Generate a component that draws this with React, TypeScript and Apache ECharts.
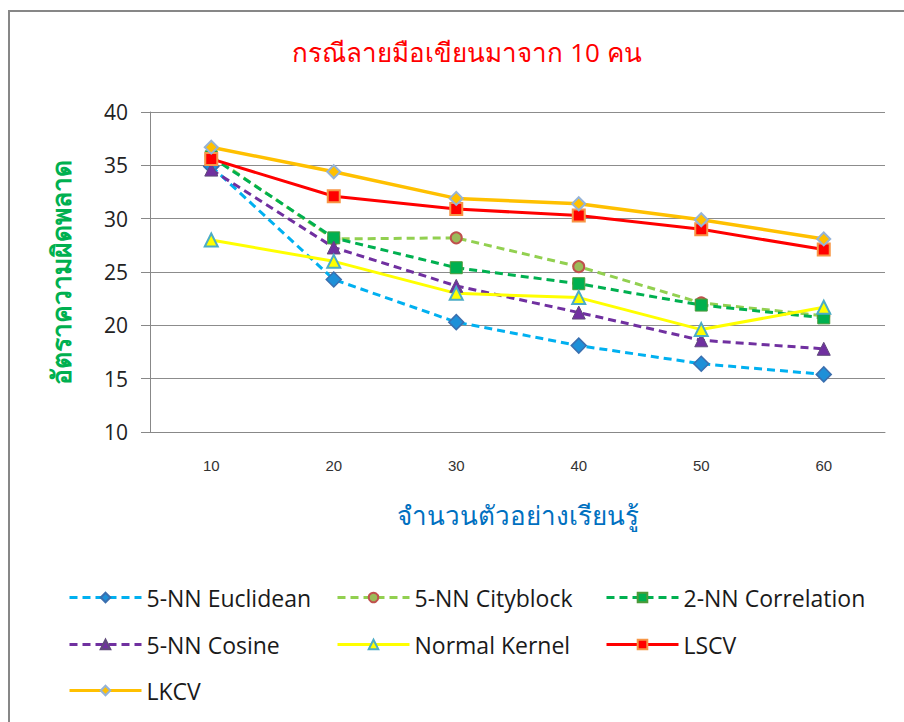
import React, { useEffect, useRef } from "react";
import * as echarts from "echarts";

const categories = ["10", "20", "30", "40", "50", "60"];
const yTicks = [10, 15, 20, 25, 30, 35, 40];

const euclidean = [34.9, 24.3, 20.3, 18.1, 16.4, 15.4];
const cityblock = [35.9, 28.1, 28.2, 25.5, 22.1, 20.9];
const correlation = [35.8, 28.2, 25.4, 23.9, 21.9, 20.7];
const cosine = [34.6, 27.3, 23.7, 21.2, 18.6, 17.8];
const normalKernel = [28.0, 26.0, 23.0, 22.6, 19.6, 21.7];
const lscv = [35.6, 32.1, 30.9, 30.3, 29.0, 27.1];
const lkcv = [36.7, 34.4, 31.9, 31.4, 29.9, 28.1];

const titleText = "กรณีลายมือเขียนมาจาก 10 คน";
const xName = "จำนวนตัวอย่างเรียนรู้";
const yName = "อัตราความผิดพลาด";

const seriesNames = [
  "5-NN Euclidean",
  "5-NN Cityblock",
  "2-NN Correlation",
  "5-NN Cosine",
  "Normal Kernel",
  "LSCV",
  "LKCV",
];

const FONT = "'Open Sans', 'Noto Sans', 'DejaVu Sans', sans-serif";
const DASH = [8, 5];

export default function App() {
  const ref = useRef<HTMLDivElement>(null);
  useEffect(() => {
    if (!ref.current) return;
    const chart = echarts.init(ref.current, undefined, { renderer: "svg" });
    const mk = (
      name: string,
      data: number[],
      lineColor: string,
      dashed: boolean,
      symbol: string,
      symbolSize: number,
      fill: string,
      border: string,
      borderWidth: number,
      width = 3
    ) => ({
      type: "line",
      name,
      data,
      symbol,
      symbolSize,
      lineStyle: { color: lineColor, width, type: dashed ? DASH : "solid" },
      itemStyle: { color: fill, borderColor: border, borderWidth },
      emphasis: { disabled: true },
    });
    const legendPos = [
      [63, 581],
      [331, 581],
      [600, 581],
      [63, 628],
      [331, 628],
      [600, 628],
      [63, 674],
    ];
    const legends = seriesNames.map((n, i) => ({
      data: [n],
      left: legendPos[i][0],
      top: legendPos[i][1],
      itemWidth: 72,
      itemHeight: 12,
      itemGap: 0,
      lineStyle: { width: 3 },
      textStyle: { fontFamily: FONT, fontSize: 23, color: "#1a1a1a" },
      selectedMode: false,
    }));
    chart.setOption({
      animation: false,
      backgroundColor: "#fff",
      title: {
        text: titleText,
        left: 462,
        textAlign: "center",
        top: 34,
        textStyle: { color: "#FF0000", fontSize: 26, fontWeight: "normal", fontFamily: FONT },
      },
      graphic: [
        {
          type: "rect",
          shape: { x: 9, y: 11, width: 1000, height: 1000 },
          style: { fill: "none", stroke: "#878787", lineWidth: 2 },
          silent: true,
        },
      ],
      legend: legends,
      grid: { left: 150, right: 19, top: 112, bottom: 290 },
      xAxis: {
        type: "category",
        data: categories,
        boundaryGap: true,
        name: xName,
        nameLocation: "middle",
        nameGap: 70,
        nameTextStyle: { color: "#0070C0", fontSize: 26, fontFamily: FONT },
        axisLine: { show: true, lineStyle: { color: "#888", width: 1 } },
        axisTick: { show: false },
        axisLabel: { color: "#333", fontSize: 15, margin: 26, fontFamily: "'Liberation Sans', Arial, sans-serif" },
      },
      yAxis: {
        type: "value",
        min: yTicks[0],
        max: yTicks[yTicks.length - 1],
        interval: 5,
        name: yName,
        nameLocation: "middle",
        nameGap: 76,
        nameRotate: 90,
        nameTextStyle: { color: "#00B050", fontSize: 26.5, fontWeight: "bold", fontFamily: FONT },
        axisLine: { show: true, lineStyle: { color: "#888", width: 1 } },
        axisTick: { show: true, inside: false, length: 9, lineStyle: { color: "#888" } },
        axisLabel: { color: "#222", fontSize: 21, margin: 22, fontFamily: FONT },
        splitLine: { show: true, lineStyle: { color: "#8c8c8c", width: 1 } },
      },
      series: [
        mk(seriesNames[0], euclidean, "#00B0F0", true, "diamond", 15, "#1E90D8", "#3B6FAF", 1.5),
        mk(seriesNames[1], cityblock, "#92D050", true, "circle", 11, "#9BBB59", "#C0504D", 2),
        mk(seriesNames[2], correlation, "#00B050", true, "rect", 12, "#00B050", "#4E9A3A", 1),
        mk(seriesNames[3], cosine, "#7030A0", true, "triangle", 13, "#7030A0", "#604A7B", 1),
        mk(seriesNames[4], normalKernel, "#FFFF00", false, "triangle", 13, "#FFFF00", "#4BACC6", 2),
        mk(seriesNames[5], lscv, "#FF0000", false, "rect", 12, "#FF0000", "#F79646", 2),
        mk(seriesNames[6], lkcv, "#FFC000", false, "diamond", 13, "#FFC000", "#95B3D7", 2, 3.5),
      ],
    });
    return () => chart.dispose();
  }, []);
  return (
    <div
      ref={ref}
      style={{ position: "fixed", left: 0, top: 0, width: 904, height: 722, background: "#fff" }}
    />
  );
}
